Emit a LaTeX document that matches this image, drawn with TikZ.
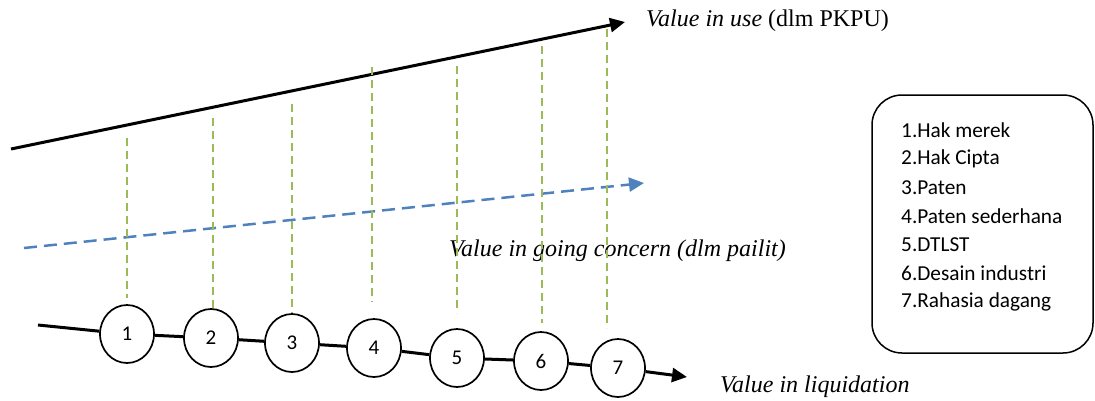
\documentclass[tikz,border=0pt]{standalone}
\usepackage{fontspec}
\setmainfont{Liberation Serif}
\newfontfamily\calibrifont{Carlito}
\usetikzlibrary{arrows.meta,shapes.geometric}
\definecolor{ggreen}{RGB}{155,187,89}
\definecolor{gblue}{RGB}{79,129,189}
\begin{document}
\begin{tikzpicture}[x=1pt,y=-1pt,
  bigarrow/.style={line width=3pt,-{Triangle[length=15pt,width=14pt]}},
  bluearrow/.style={line width=2.5pt,color=gblue,dash pattern=on 13pt off 7pt,-{Triangle[length=15pt,width=14pt]}},
  guide/.style={line width=2.3pt,color=ggreen,dash pattern=on 8pt off 5pt},
  numcirc/.style={ellipse,draw,line width=1.7pt,fill=white,minimum width=54pt,minimum height=58pt,inner sep=0pt,font=\calibrifont\fontsize{21}{25}\selectfont},
  lbl/.style={font=\fontsize{24}{29}\selectfont,inner sep=0pt},
  legtext/.style={font=\calibrifont\fontsize{21.3}{25}\selectfont,anchor=west,inner sep=0pt},
  legbox/.style={draw,line width=1.5pt,rounded corners=30pt}
]
\useasboundingbox (0,0) rectangle (1095,400);

% top black line
\coordinate (ts) at (11,149);
\coordinate (te) at (625,22);
\draw[bigarrow] (ts) -- (te);
\node[lbl,anchor=west] (tl) at (646,21) {\textit{Value in use} (dlm PKPU)};

% blue dashed
\coordinate (bs) at (24,248);
\coordinate (be) at (644,183);
\draw[bluearrow] (bs) -- (be);
\node[lbl,anchor=west] (bl) at (449,251) {\textit{Value in going concern (dlm pailit)}};

% green guides
\foreach \i/\x/\a/\b in {1/127/138/298, 2/213/118/309, 3/292/104/317, 4/372/67/302, 5/457/66/313, 6/542/46/323, 7/607/29/328}{
  \coordinate (g\i t) at (\x,\a);
  \coordinate (g\i b) at (\x,\b);
  \draw[guide] (g\i t) -- (g\i b);
}

% bottom chain
\coordinate (ls) at (38,325);
\coordinate (le) at (687,377);
\node[numcirc] (c1) at (127,334) {1};
\node[numcirc] (c2) at (211,338) {2};
\node[numcirc] (c3) at (292,343) {3};
\node[numcirc] (c4) at (374,348) {4};
\node[numcirc] (c5) at (457,358) {5};
\node[numcirc] (c6) at (541,361) {6};
\node[numcirc] (c7) at (618,368) {7};
\draw[line width=3pt] (ls) -- (c1) -- (c2) -- (c3) -- (c4) -- (c5) -- (c6) -- (c7);
\draw[bigarrow] (c7) -- (le);
\node[lbl,anchor=west] (ll) at (720,387) {\textit{Value in liquidation}};

% legend
\draw[legbox] (872,95) rectangle (1093,353);
\node[legtext] (l1) at (901,130.0) {1.Hak merek};
\node[legtext] (l2) at (901,158.7) {2.Hak Cipta};
\node[legtext] (l3) at (901,187.3) {3.Paten};
\node[legtext] (l4) at (901,216.0) {4.Paten sederhana};
\node[legtext] (l5) at (901,244.7) {5.DTLST};
\node[legtext] (l6) at (901,273.3) {6.Desain industri};
\node[legtext] (l7) at (901,302.0) {7.Rahasia dagang};
\end{tikzpicture}
\end{document}
